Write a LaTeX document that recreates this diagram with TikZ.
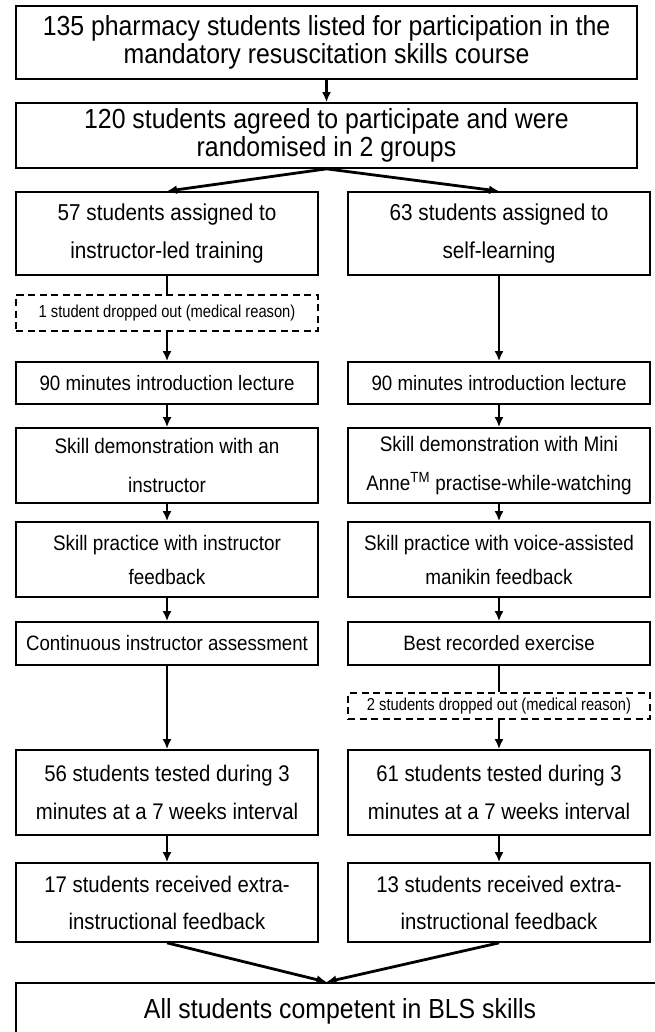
\documentclass[tikz,border=0pt]{standalone}
\usepackage{fontspec}
\setmainfont{Liberation Sans}[FakeStretch=0.9]
\newfontfamily\narrowfont[FakeStretch=0.85]{Liberation Sans}
\usetikzlibrary{shapes,arrows.meta}

\begin{document}
\begin{tikzpicture}[x=1pt,y=-1pt,
  box/.style={draw,line width=1.7pt,align=center,inner sep=0pt},
  wide/.style={box,minimum width=621pt,font=\fontsize{27.6}{28}\selectfont},
  col/.style={box,minimum width=302pt},
  drop/.style={col,dash pattern=on 7pt off 4.5pt,line width=1.4pt,font=\narrowfont\fontsize{17.3}{18}\selectfont},
  arr/.style={-{Latex[length=10pt,width=9pt]},line width=2.8pt}]
\useasboundingbox (0,0) rectangle (655,1032);
\clip (0,0) rectangle (655,1032);
\node[wide,minimum height=73pt] (listed) at (326.5,42.5) {135 pharmacy students listed for participation in the\\mandatory resuscitation skills course};
\node[wide,minimum height=65pt] (rand) at (326.5,135.5) {120 students agreed to participate and were\\randomised in 2 groups};
% instructor-led group
\node[col,minimum height=83pt,font=\fontsize{23}{38}\selectfont] (asgA) at (167,233.5) {57 students assigned to\\instructor-led training};
\node[drop,minimum height=36pt] (dropA) at (167,313) {1 student dropped out (medical reason)};
\node[col,minimum height=42pt,font=\fontsize{20.8}{22}\selectfont] (lecA) at (167,383) {90 minutes introduction lecture};
\node[col,minimum height=75pt,font=\fontsize{21}{39}\selectfont] (demoA) at (167,465.5) {Skill demonstration with an\\instructor};
\node[col,minimum height=75pt,font=\fontsize{21}{34}\selectfont] (pracA) at (167,559.5) {Skill practice with instructor\\feedback};
\node[col,minimum height=43pt,font=\fontsize{20.8}{22}\selectfont] (evalA) at (167,643.5) {Continuous instructor assessment};
\node[col,minimum height=85pt,font=\fontsize{22.6}{38}\selectfont] (testA) at (167,792.5) {56 students tested during 3\\minutes at a 7 weeks interval};
\node[col,minimum height=79pt,font=\fontsize{22.6}{37}\selectfont] (extraA) at (167,902.5) {17 students received extra-\\instructional feedback};
% self-learning group
\node[col,minimum height=83pt,font=\fontsize{23}{38}\selectfont] (asgB) at (499,233.5) {63 students assigned to\\self-learning};
\node[col,minimum height=42pt,font=\fontsize{20.8}{22}\selectfont] (lecB) at (499,383) {90 minutes introduction lecture};
\node[col,minimum height=75pt,font=\fontsize{21}{39}\selectfont] (demoB) at (499,465.5) {Skill demonstration with Mini\\Anne\textsuperscript{TM} practise-while-watching};
\node[col,minimum height=75pt,font=\fontsize{21}{34}\selectfont] (pracB) at (499,559.5) {Skill practice with voice-assisted\\manikin feedback};
\node[col,minimum height=43pt,font=\fontsize{20.8}{22}\selectfont] (evalB) at (499,643.5) {Best recorded exercise};
\node[drop,minimum height=26pt] (dropB) at (499,706) {2 students dropped out (medical reason)};
\node[col,minimum height=85pt,font=\fontsize{22.6}{38}\selectfont] (testB) at (499,792.5) {61 students tested during 3\\minutes at a 7 weeks interval};
\node[col,minimum height=79pt,font=\fontsize{22.6}{37}\selectfont] (extraB) at (499,902.5) {13 students received extra-\\instructional feedback};
\node[box,anchor=north,minimum width=648pt,minimum height=58pt,font=\fontsize{27.6}{28}\selectfont] (all) at (340,982) {All students competent in BLS skills};

\draw[arr] (listed) -- (rand);
\draw[arr] (rand.south) -- (asgA.north);
\draw[arr] (rand.south) -- (asgB.north);
\draw[line width=2.8pt] (asgA) -- (dropA);
\draw[arr] (dropA) -- (lecA);
\draw[arr] (lecA) -- (demoA);
\draw[arr] (demoA) -- (pracA);
\draw[arr] (pracA) -- (evalA);
\draw[arr] (evalA) -- (testA);
\draw[arr] (testA) -- (extraA);
\draw[arr] (asgB) -- (lecB);
\draw[arr] (lecB) -- (demoB);
\draw[arr] (demoB) -- (pracB);
\draw[arr] (pracB) -- (evalB);
\draw[line width=2.8pt] (evalB) -- (dropB);
\draw[arr] (dropB) -- (testB);
\draw[arr] (testB) -- (extraB);
\draw[arr] (extraA.south) -- (all.north -| rand.south);
\draw[arr] (extraB.south) -- (all.north -| rand.south);
\end{tikzpicture}
\end{document}
